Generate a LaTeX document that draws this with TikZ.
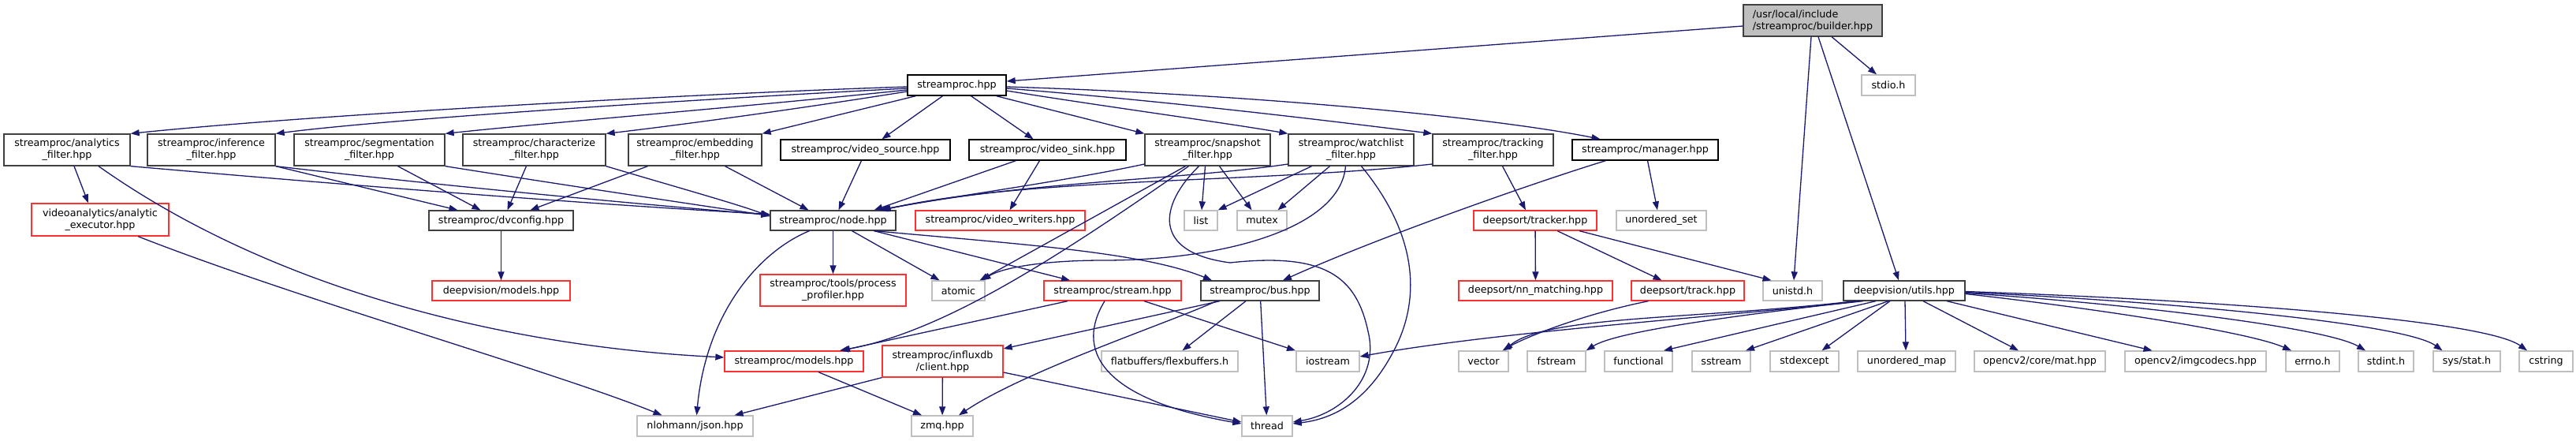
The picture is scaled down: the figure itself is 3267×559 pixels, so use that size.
\documentclass[tikz,border=0pt]{standalone}
\usepackage{fontspec}
\setmainfont{DejaVu Sans}
\usetikzlibrary{arrows.meta}
\definecolor{edgeblue}{HTML}{191970}
\definecolor{leafgray}{HTML}{BFBFBF}
\definecolor{darkb}{HTML}{404040}
\definecolor{trunc}{HTML}{FF3030}
\tikzset{
  box/.style={draw=darkb, line width=1.3pt, fill=white, inner sep=0pt, align=center,
    font=\fontsize{12.7pt}{15pt}\selectfont},
  blk/.style={box, draw=black},
  red/.style={box, draw=trunc},
  leaf/.style={box, draw=leafgray},
  root/.style={box, fill=leafgray, draw=darkb, align=left},
  edge/.style={draw=edgeblue, line width=1.3pt, -{Triangle[length=11pt,width=8pt]}},
}
\newcommand{\bx}[6]{\node[#1, minimum width=#4pt, minimum height=#5pt] (#2) at (#3) {#6};}
\begin{document}
\begin{tikzpicture}[x=1pt,y=-1pt]
\useasboundingbox (0,0) rectangle (3267,559);
% top
\bx{root}{bld}{2299,26}{176}{40}{/usr/local/include\\/streamproc/builder.hpp}
\bx{blk}{sp}{1213.5,108}{125}{26}{streamproc.hpp}
\bx{leaf}{stdio}{2395,108}{68}{26}{stdio.h}
% row 2
\bx{box}{an}{85,190}{160}{40}{streamproc/analytics\\\_filter.hpp}
\bx{box}{inf}{268,190}{162}{40}{streamproc/inference\\\_filter.hpp}
\bx{box}{seg}{468.5,190}{191}{40}{streamproc/segmentation\\\_filter.hpp}
\bx{box}{cha}{677.5,190}{181}{40}{streamproc/characterize\\\_filter.hpp}
\bx{box}{emb}{881.5,190}{169}{40}{streamproc/embedding\\\_filter.hpp}
\bx{blk}{vsrc}{1097.5,190}{215}{26}{streamproc/video\_source.hpp}
\bx{blk}{vsnk}{1328.5,190}{199}{26}{streamproc/video\_sink.hpp}
\bx{box}{snap}{1531.5,190}{159}{40}{streamproc/snapshot\\\_filter.hpp}
\bx{box}{wl}{1713.5,190}{159}{40}{streamproc/watchlist\\\_filter.hpp}
\bx{box}{trk}{1893.5,190}{153}{40}{streamproc/tracking\\\_filter.hpp}
\bx{blk}{mgr}{2086.5,190}{185}{26}{streamproc/manager.hpp}
% row 3
\bx{red}{exe}{127,278.5}{174}{41}{videoanalytics/analytic\\\_executor.hpp}
\bx{box}{dvc}{635.5,279.5}{183}{25}{streamproc/dvconfig.hpp}
\bx{box}{node}{1056.5,279.5}{159}{25}{streamproc/node.hpp}
\bx{red}{vw}{1268.5,279.5}{215}{25}{streamproc/video\_writers.hpp}
\bx{leaf}{list}{1523,279.5}{42}{25}{list}
\bx{leaf}{mutex}{1600.5,279.5}{63}{25}{mutex}
\bx{red}{tracker}{1947,279.5}{156}{25}{deepsort/tracker.hpp}
\bx{leaf}{uset}{2107,279.5}{114}{25}{unordered\_set}
% row 4
\bx{red}{prof}{1056.5,368}{185}{40}{streamproc/tools/process\\\_profiler.hpp}
\bx{red}{dvm}{635.5,368.5}{175}{25}{deepvision/models.hpp}
\bx{leaf}{atomic}{1215.5,368.5}{67}{25}{atomic}
\bx{red}{stream}{1411,368.5}{174}{25}{streamproc/stream.hpp}
\bx{box}{bus}{1598,368.5}{150}{25}{streamproc/bus.hpp}
\bx{red}{nnm}{1947.5,368.5}{195}{25}{deepsort/nn\_matching.hpp}
\bx{red}{track}{2140.5,368.5}{143}{25}{deepsort/track.hpp}
\bx{leaf}{unistd}{2273.5,368.5}{75}{25}{unistd.h}
\bx{box}{utils}{2415,368.5}{154}{25}{deepvision/utils.hpp}
% row 5
\bx{red}{models}{1007,458}{176}{26}{streamproc/models.hpp}
\bx{red}{client}{1195.5,458}{153}{40}{streamproc/influxdb\\/client.hpp}
\bx{leaf}{flat}{1483.5,458}{173}{26}{flatbuffers/flexbuffers.h}
\bx{leaf}{iostream}{1684,458}{80}{26}{iostream}
\bx{leaf}{vector}{1881.5,458}{63}{26}{vector}
\bx{leaf}{fstream}{1974,458}{74}{26}{fstream}
\bx{leaf}{functional}{2078,458}{86}{26}{functional}
\bx{leaf}{sstream}{2183,458}{74}{26}{sstream}
\bx{leaf}{stdexcept}{2288.5,458}{87}{26}{stdexcept}
\bx{leaf}{umap}{2418,458}{124}{26}{unordered\_map}
\bx{leaf}{mat}{2587,458}{166}{26}{opencv2/core/mat.hpp}
\bx{leaf}{imgc}{2784.5,458}{179}{26}{opencv2/imgcodecs.hpp}
\bx{leaf}{errno}{2933,458}{68}{26}{errno.h}
\bx{leaf}{stdint}{3026,458}{70}{26}{stdint.h}
\bx{leaf}{stat}{3128.5,458}{85}{26}{sys/stat.h}
\bx{leaf}{cstring}{3229,458}{68}{26}{cstring}
% row 6
\bx{leaf}{json}{881.5,540}{147}{26}{nlohmann/json.hpp}
\bx{leaf}{zmq}{1195,540}{78}{26}{zmq.hpp}
\bx{leaf}{thread}{1607,540}{64}{26}{thread}

% ---- edges ----
\draw[edge] ([yshift=-7pt]bld.west) -- ([yshift=5pt]sp.east);
\draw[edge] ([xshift=24pt]bld.south) -- ([xshift=-15pt]stdio.north);
\draw[edge] ([xshift=-2pt]bld.south) -- ([xshift=1.5pt]unistd.north);
\draw[edge] ([xshift=7pt]bld.south) -- ([xshift=-7pt]utils.north);

\draw[edge] ([yshift=-2pt]sp.west) .. controls (900,118) and (400,145) .. (an.north east);
\draw[edge] ([yshift=-4pt]sp.west) .. controls (900,125) and (500,150) .. (inf.north east);
\draw[edge] ([yshift=-6pt]sp.west) .. controls (950,135) and (700,155) .. (seg.north east);
\draw[edge] ([yshift=-8pt]sp.west) .. controls (1000,140) and (850,160) .. (cha.north east);
\draw[edge] ([xshift=-52pt]sp.south) -- (emb.north east);
\draw[edge] ([xshift=-18pt]sp.south) -- ([xshift=21pt]vsrc.north);
\draw[edge] ([xshift=18pt]sp.south) -- ([xshift=-18pt]vsnk.north);
\draw[edge] ([xshift=50pt]sp.south) -- (snap.north west);
\draw[edge] ([yshift=-7pt]sp.east) .. controls (1400,135) and (1550,155) .. (wl.north west);
\draw[edge] ([yshift=-4pt]sp.east) .. controls (1500,130) and (1700,155) .. (trk.north west);
\draw[edge] ([yshift=-2pt]sp.east) .. controls (1600,120) and (1900,150) .. ([xshift=-57pt]mgr.north);

\draw[edge] ([xshift=9pt]an.south) -- ([xshift=-15pt]exe.north);
\draw[edge] ([xshift=40pt]an.south) .. controls (350,370) and (650,440) .. ([yshift=5pt]models.west);
\draw[edge] (an.south east) .. controls (500,240) and (800,262) .. ([yshift=8pt]node.west);
\draw[edge] ([xshift=48pt]exe.south) .. controls (380,380) and (700,470) .. ([xshift=-42pt]json.north);

\draw[edge] (inf.south east) -- ([xshift=-55pt]dvc.north);
\draw[edge] (inf.south east) .. controls (600,240) and (850,262) .. ([yshift=7pt]node.west);
\draw[edge] ([xshift=36pt]seg.south) -- ([xshift=-26pt]dvc.north);
\draw[edge] (seg.south east) .. controls (750,240) and (900,262) .. ([yshift=6pt]node.west);
\draw[edge] ([xshift=-10pt]cha.south) -- ([xshift=8pt]dvc.north);
\draw[edge] (cha.south east) .. controls (850,235) and (940,260) .. ([yshift=5pt]node.west);
\draw[edge] ([xshift=-60pt]emb.south) -- ([xshift=37pt]dvc.north);
\draw[edge] ([xshift=38pt]emb.south) -- ([xshift=-31pt]node.north);
\draw[edge] ([xshift=-5pt]vsrc.south) -- ([xshift=7pt]node.north);
\draw[edge] ([xshift=-40pt]vsnk.south) -- ([xshift=52pt]node.north);
\draw[edge] ([xshift=-10pt]vsnk.south) -- ([xshift=12pt]vw.north);

\draw[edge] ([yshift=-18pt]snap.west) .. controls (1350,230) and (1200,250) .. ([xshift=-22pt]node.north east);
\draw[edge] ([yshift=-18pt]wl.west) .. controls (1500,228) and (1300,230) .. ([xshift=-20pt]node.north east);
\draw[edge] ([yshift=-18pt]trk.west) .. controls (1600,232) and (1300,225) .. ([xshift=-18pt]node.north east);
\draw[edge] ([xshift=-28pt]snap.south) -- ([xshift=27pt]atomic.north);
\draw[edge] ([xshift=-24pt]snap.south) .. controls (1350,320) and (1200,420) .. ([xshift=58pt]models.north);
\draw[edge] ([xshift=-3pt]snap.south) -- ([xshift=1pt]list.north);
\draw[edge] ([xshift=15pt]snap.south) -- ([xshift=-13pt]mutex.north);
\draw[edge] ([xshift=-11pt]snap.south) .. controls (1470,260) and (1460,320) .. (1560,333)
   .. controls (1680,320) and (1720,350) .. (1735,420)
   .. controls (1750,480) and (1700,525) .. ([yshift=5pt]thread.east);
\draw[edge] ([xshift=-50pt]wl.south) -- (list.north east);
\draw[edge] ([xshift=-27pt]wl.south) -- ([xshift=20pt]mutex.north);
\draw[edge] ([xshift=-7pt]wl.south) .. controls (1700,290) and (1550,330) .. (1400,330)
   .. controls (1320,330) and (1270,340) .. ([xshift=30pt]atomic.north);
\draw[edge] ([xshift=13pt]wl.south) .. controls (1800,300) and (1800,380) .. (1770,440)
   .. controls (1740,500) and (1700,530) .. ([yshift=3pt]thread.east);

\draw[edge] ([xshift=12pt]trk.south) -- ([xshift=-12pt]tracker.north);
\draw[edge] ([xshift=-50pt]mgr.south) .. controls (1950,230) and (1750,300) .. ([xshift=29pt]bus.north);
\draw[edge] ([xshift=3pt]mgr.south) -- ([xshift=-5pt]uset.north);
\draw[edge] (tracker) -- (nnm);
\draw[edge] ([xshift=28pt]tracker.south) -- ([xshift=-33pt]track.north);
\draw[edge] ([xshift=56pt]tracker.south) -- ([xshift=-27pt]unistd.north);
\draw[edge] ([xshift=-50pt]track.south) .. controls (2000,400) and (1930,430) .. ([xshift=24pt]vector.north);

\draw[edge] (dvc) -- (dvm);
\draw[edge] ([xshift=-30pt]node.south) .. controls (960,320) and (895,400) .. ([xshift=2pt]json.north);
\draw[edge] (node) -- (prof);
\draw[edge] ([xshift=24pt]node.south) -- ([xshift=-24pt]atomic.north);
\draw[edge] ([xshift=52pt]node.south) -- ([xshift=-54pt]stream.north);
\draw[edge] ([xshift=52pt]node.south) .. controls (1300,310) and (1450,320) .. ([xshift=-61pt]bus.north);

\draw[edge] ([xshift=-57pt]stream.south) -- ([xshift=60pt]models.north);
\draw[edge] ([xshift=-10pt]stream.south) .. controls (1365,440) and (1390,505) .. ([yshift=3pt]thread.west);
\draw[edge] ([xshift=40pt]stream.south) -- ([xshift=-41pt]iostream.north);
\draw[edge] ([xshift=-51pt]bus.south) -- ([yshift=16pt]client.east);
\draw[edge] ([xshift=-55pt]bus.south) .. controls (1480,410) and (1300,470) .. ([xshift=21pt]zmq.north);
\draw[edge] ([xshift=-18pt]bus.south) -- ([xshift=16pt]flat.north);
\draw[edge] (bus) -- (thread);
\draw[edge] (client.south west) -- ([xshift=50pt]json.north);
\draw[edge] (client) -- (zmq);
\draw[edge] ([yshift=-14pt]client.east) -- ([yshift=5pt]thread.west);
\draw[edge] ([xshift=31pt]models.south) -- ([xshift=-26pt]zmq.north);

\draw[edge] ([xshift=-52pt]utils.south) .. controls (2200,400) and (1900,420) .. ([yshift=6pt]iostream.east);
\draw[edge] ([xshift=-62pt]utils.south) .. controls (2150,405) and (1960,400) .. ([xshift=26pt]vector.north);
\draw[edge] ([xshift=-57pt]utils.south) .. controls (2200,400) and (2050,420) .. (fstream.north east);
\draw[edge] ([xshift=-36pt]utils.south) -- ([xshift=32pt]functional.north);
\draw[edge] ([xshift=-20pt]utils.south) -- ([xshift=31pt]sstream.north);
\draw[edge] ([xshift=-18pt]utils.south) -- ([xshift=22pt]stdexcept.north);
\draw[edge] ([xshift=1pt]utils.south) -- ([xshift=-1pt]umap.north);
\draw[edge] ([xshift=24pt]utils.south) -- ([xshift=-27pt]mat.north);
\draw[edge] ([xshift=54pt]utils.south) -- ([xshift=-55pt]imgc.north);
\draw[edge] ([yshift=-4pt]utils.east) .. controls (2650,390) and (2850,420) .. ([xshift=-27pt]errno.north);
\draw[edge] ([yshift=-3pt]utils.east) .. controls (2700,385) and (2950,415) .. ([xshift=-26pt]stdint.north);
\draw[edge] ([yshift=-2pt]utils.east) .. controls (2750,382) and (3050,410) .. ([xshift=-31pt]stat.north);
\draw[edge] ([yshift=-1pt]utils.east) .. controls (2800,380) and (3150,405) .. ([xshift=-24pt]cstring.north);
\end{tikzpicture}
\end{document}
